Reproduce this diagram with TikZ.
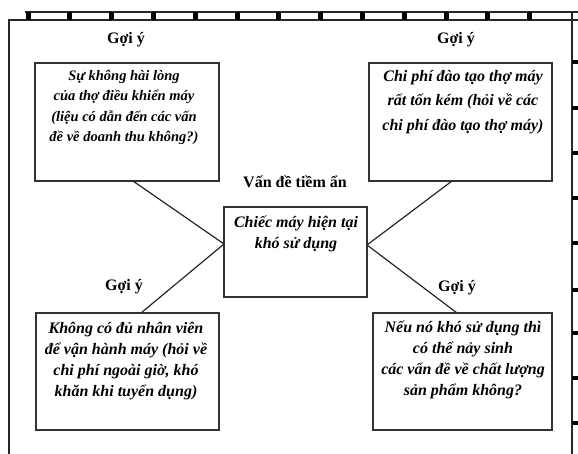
\documentclass[tikz,border=0pt]{standalone}
\usepackage{fontspec}
\setmainfont{Liberation Serif}
\usetikzlibrary{calc}
\begin{document}
\begin{tikzpicture}[x=1pt,y=-1pt,
  box/.style={draw=black!80, line width=1.4pt, inner sep=0pt},
  txt/.style={font=\fontsize{14.5}{20.5}\selectfont\bfseries\itshape, align=center, anchor=north, inner sep=0pt},
  txtb/.style={font=\fontsize{16}{21}\selectfont\bfseries\itshape, align=center, anchor=north, inner sep=0pt},
  txtw/.style={font=\fontsize{16}{24.5}\selectfont\bfseries\itshape, align=center, anchor=north, inner sep=0pt},
  lbl/.style={font=\fontsize{16}{18}\selectfont\bfseries, inner sep=0pt},
  conn/.style={draw=black!85, line width=1.2pt},
  frm/.style={draw=black!85, line width=1.5pt}]
\useasboundingbox (0,0) rectangle (578,454);
\fill[white] (0,0) rectangle (578,454);
% frame
\draw[frm] (9,454) -- (9,20) -- (578,20);
\draw[frm] (25,12) -- (578,12);
\draw[frm] (572,12) -- (572,454);
\foreach \k in {0,...,12} \fill[black] ({28+41.8*\k-2.5},12) rectangle ++(5,8);
\foreach \yy in {62,108,153,198,243,290,333,378,423} \fill[black] (572,\yy-2) rectangle (578,\yy+2);
% boxes
\node[box, minimum width=184pt, minimum height=118pt] (tl) at (127,122) {};
\node[box, minimum width=183pt, minimum height=118pt] (tr) at (460.5,122) {};
\node[box, minimum width=143pt, minimum height=90pt] (c) at (295.5,252) {};
\node[box, minimum width=183pt, minimum height=117pt] (bl) at (127.5,371.5) {};
\node[box, minimum width=179pt, minimum height=117pt] (br) at (462.5,371.5) {};
% texts
\node[txt] (tlt) at (124,70) {Sự không hài lòng\\của thợ điều khiển máy\\(liệu có dẫn đến các vấn\\đề về doanh thu không?)};
\node[txtw] (trt) at (463,70) {Chi phí đào tạo thợ máy\\rất tốn kém (hỏi về các\\chi phí đào tạo thợ máy)};
\node[txtb] (ct) at (296,216) {Chiếc máy hiện tại\\khó sử dụng};
\node[txtb] (blt) at (126,322) {Không có đủ nhân viên\\để vận hành máy (hỏi về\\chi phí ngoài giờ, khó\\khăn khi tuyển dụng)};
\node[txtb] (brt) at (463,321) {Nếu nó khó sử dụng thì\\có thể nảy sinh\\các vấn đề về chất lượng\\sản phẩm không?};
% labels
\node[lbl] (g1) at (126,40) {Gợi ý};
\node[lbl] (g2) at (456,40) {Gợi ý};
\node[lbl] (g3) at (124,287) {Gợi ý};
\node[lbl] (g4) at (457,288) {Gợi ý};
\node[lbl] (vd) at (295,182) {Vấn đề tiềm ẩn};
% connectors
\coordinate (cL) at (224,244);
\coordinate (cR) at (367,245);
\coordinate (tlE) at (133,181);
\coordinate (blE) at (141,313);
\coordinate (trE) at (452,181);
\coordinate (brE) at (457,313);
\draw[conn] (cL) -- (tlE);
\draw[conn] (cL) -- (blE);
\draw[conn] (cR) -- (trE);
\draw[conn] (cR) -- (brE);
\end{tikzpicture}
\end{document}
